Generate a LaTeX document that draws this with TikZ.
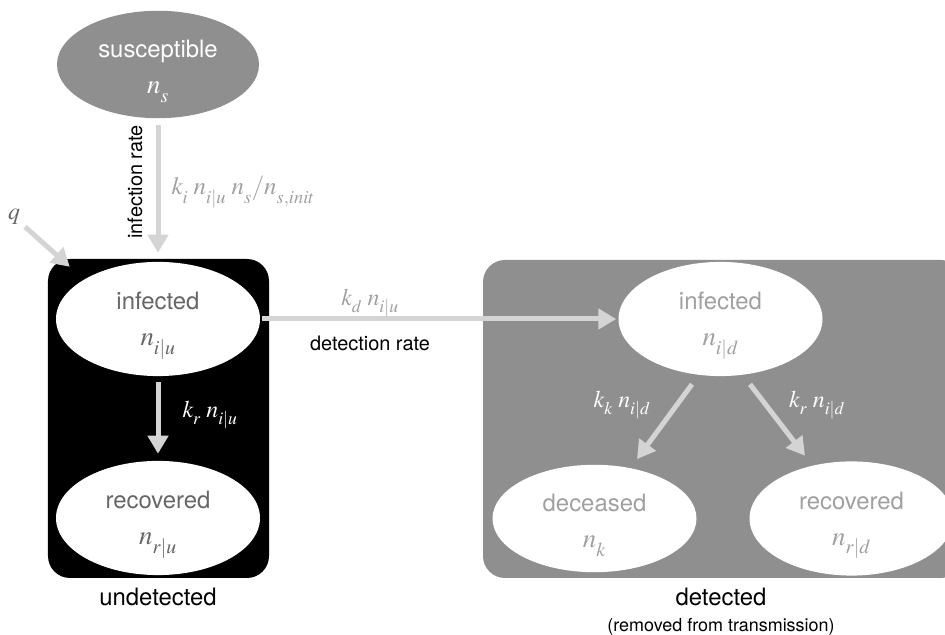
\documentclass[tikz,border=0pt]{standalone}
\usepackage{mathptmx}
\usepackage[no-math]{fontspec}
\setmainfont{TeX Gyre Heros}
\usetikzlibrary{arrows.meta, shapes.geometric, calc}
\definecolor{flowgray}{HTML}{D4D4D4}
\definecolor{labelgray}{HTML}{A0A0A0}
\definecolor{boxgray}{HTML}{8F8F8F}
\definecolor{textdark}{HTML}{666666}
\newcommand{\labelsize}{\fontsize{24}{34}\selectfont}
\newcommand{\capsize}{\fontsize{20}{24}\selectfont}
\newcommand{\countsize}{\fontsize{27}{34}\selectfont}
\newcommand{\lsub}[1]{_{\raisebox{-0.18em}{$\scriptstyle #1$}}}
\newcommand{\pop}[1]{{\countsize$n\lsub{#1}$}}
\newcommand{\compartment}[2]{\rule{0pt}{31bp}#1\\[2bp]\pop{#2}}
\tikzset{
  state/.style={
    ellipse, minimum width=204bp, minimum height=106bp, inner sep=0pt,
    fill=white, align=center, font=\labelsize
  },
  group/.style={
    rectangle, rounded corners=22bp, inner sep=0pt
  },
  flow/.style={
    -{Triangle[width=20bp,length=18bp]}, line width=5bp, color=flowgray
  },
  rate/.style={font=\labelsize, text=labelgray},
  caption/.style={font=\capsize, text=black}
}
\begin{document}
\begin{tikzpicture}[x=1bp, y=1bp]
    \useasboundingbox (0,0) rectangle (945,635);

    % Compartment blocks
    \node[group, fill=black, minimum width=221bp, minimum height=319bp] (undet) at (158.5,216.5) {};
    \node[group, fill=boxgray, minimum width=480bp, minimum height=318bp] (det) at (723,216) {};

    % Susceptible
    \node[state, fill=boxgray, minimum width=202bp, minimum height=101bp, text=white] (susc) at (158,570.5)
      {\compartment{susceptible}{s}};

    % Undetected states
    \node[state, text=textdark] (infu) at (158,316) {\compartment{infected}{i|u}};
    \node[state, text=textdark] (recu) at (158,117) {\compartment{recovered}{r|u}};

    % Detected states
    \node[state, text=labelgray] (infd) at (720.5,316) {\compartment{infected}{i|d}};
    \node[state, text=labelgray] (dec) at (594.5,116.5) {\compartment{deceased}{k}};
    \node[state, text=labelgray] (recd) at (851.5,116.5) {\compartment{recovered}{r|d}};

    % Infection
    \draw[flow, shorten <=7bp, shorten >=9bp] (susc.south) -- (infu.north);
    \node[caption, rotate=90] (infrate) at (135,453) {infection rate};
    \node[rate, anchor=west] (kinf) at (168,443)
      {\fontsize{25}{30}\selectfont$k\lsub{i}\;n\lsub{i|u}\;n\lsub{s}/n\lsub{s,init}$};

    % Imported cases
    \node[font=\labelsize, text=textdark] (q) at (14,418) {$q$};
    \coordinate (qtip) at ([shift={(22,-8)}]undet.north west);
    \draw[flow, shorten <=2bp] (q) -- (qtip);

    % Recovery, undetected
    \draw[flow, shorten <=6bp, shorten >=7bp] (infu.south) -- (recu.north);
    \node[font=\labelsize, text=white] (kru) at (210,220) {$k\lsub{r}\;n\lsub{i|u}$};

    % Detection
    \draw[flow, shorten <=2bp, shorten >=2bp] (infu.east) -- (infd.west);
    \node[rate] (kdet) at (370,332) {$k\lsub{d}\;n\lsub{i|u}$};
    \node[caption] (detrate) at (370,292) {detection rate};

    % Outcomes, detected
    \draw[flow] ([shift={(-28.5,-8)}]infd.south) -- ([shift={(42.5,5.5)}]dec.north);
    \draw[flow] ([shift={(29.5,-8)}]infd.south) -- ([shift={(-46.5,5.5)}]recd.north);
    \node[font=\labelsize, text=white] (kk) at (622,230) {$k\lsub{k}\;n\lsub{i|d}$};
    \node[font=\labelsize, text=white] (krd) at (817,230) {$k\lsub{r}\;n\lsub{i|d}$};

    % Captions
    \node[font=\labelsize] (undetlabel) at (158,38) {undetected};
    \node[font=\labelsize] (detlabel) at (721,38) {detected};
    \node[font=\fontsize{18}{20}\selectfont] (removed) at (721,8) {(removed from transmission)};
\end{tikzpicture}
\end{document}
